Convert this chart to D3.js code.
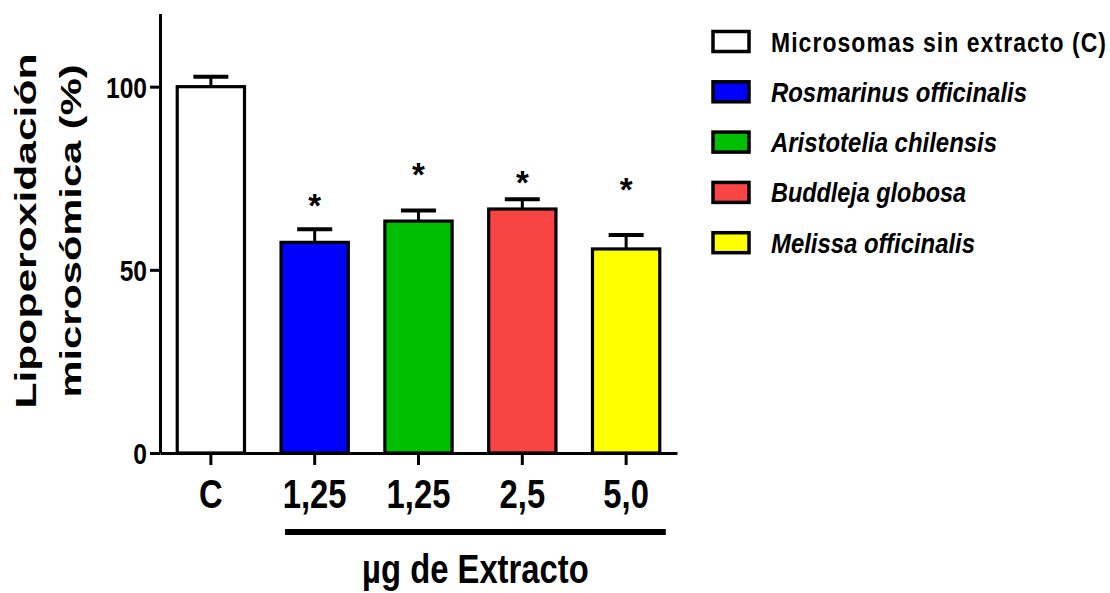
<!DOCTYPE html>
<html>
<head>
<meta charset="utf-8">
<script src="https://cdn.jsdelivr.net/npm/d3@7"></script>
<style>
  html, body { margin: 0; padding: 0; background: #fff; }
  svg { display: block; }
  .narrow { font-family: "Liberation Sans Narrow", "Arial Narrow", "Liberation Sans", Arial, sans-serif; font-weight: bold; }
  .wide { font-family: "Liberation Sans", Arial, sans-serif; font-weight: bold; }
</style>
</head>
<body>
<svg id="chart" width="1110" height="593"></svg>
<script>
// Lipid peroxidation of microsomes (% of control) by extract
const categories = ["C", "1,25", "1,25", "2,5", "5,0"];
const means = [100, 57.5, 63.3, 66.6, 55.7];
const sems = [2.7, 3.6, 2.9, 2.7, 3.8];
const significant = [false, true, true, true, true];
const starLevels = [null, 69.7, 78.1, 76.0, 74.0];
const fills = ["#ffffff", "#0000ff", "#00bf00", "#f94444", "#ffff00"];
const seriesNames = [
  "Microsomas sin extracto (C)",
  "Rosmarinus officinalis",
  "Aristotelia chilensis",
  "Buddleja globosa",
  "Melissa officinalis"
];
const yTicks = [0, 50, 100];
const yTitle = ["Lipoperoxidación", "microsómica (%)"];
const xTitle = "\u00b5g de Extracto";

const svg = d3.select("#chart");
const NARROW = 0.82; // horizontal squeeze for condensed lettering

const x = d3.scaleBand()
  .domain(d3.range(categories.length))
  .range([160, 677])
  .paddingInner(0.352)
  .paddingOuter(0.166);

const y = d3.scaleLinear().domain([0, 120]).range([453, 13.4]);

// bars
svg.append("g").selectAll("rect")
  .data(means)
  .join("rect")
  .attr("x", (d, i) => x(i))
  .attr("y", d => y(d))
  .attr("width", x.bandwidth())
  .attr("height", d => y(0) - y(d))
  .attr("fill", (d, i) => fills[i])
  .attr("stroke", "#000")
  .attr("stroke-width", 3.2);

// error bars (upper only)
const eb = svg.append("g").attr("stroke", "#000");
means.forEach((m, i) => {
  const cx = x(i) + x.bandwidth() / 2;
  eb.append("line")
    .attr("x1", cx).attr("x2", cx)
    .attr("y1", y(m)).attr("y2", y(m + sems[i]))
    .attr("stroke-width", 3);
  eb.append("line")
    .attr("x1", cx - 17.5).attr("x2", cx + 17.5)
    .attr("y1", y(m + sems[i])).attr("y2", y(m + sems[i]))
    .attr("stroke-width", 4);
});

// significance marks
svg.append("g").selectAll("text")
  .data(means.map((m, i) => i).filter(i => significant[i]))
  .join("text")
  .attr("x", i => x(i) + x.bandwidth() / 2)
  .attr("y", i => y(starLevels[i]) + 19)
  .attr("text-anchor", "middle")
  .attr("font-family", "Liberation Sans, Arial, sans-serif")
  .attr("font-weight", "bold")
  .attr("font-size", 33)
  .text("*");

// axes
const yAxis = svg.append("g")
  .attr("transform", "translate(160,0)")
  .call(d3.axisLeft(y).tickValues(yTicks).tickSize(10).tickSizeOuter(0).tickPadding(3));
yAxis.select(".domain").attr("stroke-width", 3);
yAxis.selectAll(".tick line").attr("stroke-width", 3);
yAxis.selectAll(".tick text")
  .attr("class", "narrow")
  .attr("font-size", 30)
  .attr("fill", "#000")
  .attr("x", -13 / NARROW)
  .attr("dy", "0.36em")
  .attr("transform", `scale(${NARROW},1)`);

const xAxis = svg.append("g")
  .attr("transform", "translate(0,453)")
  .call(d3.axisBottom(x).tickFormat(i => categories[i]).tickSize(12).tickSizeOuter(0).tickPadding(0));
xAxis.select(".domain").attr("stroke-width", 3);
xAxis.selectAll(".tick line").attr("stroke-width", 3);
xAxis.selectAll(".tick text")
  .attr("class", "narrow")
  .attr("font-size", 40)
  .attr("fill", "#000")
  .attr("dy", null)
  .attr("y", 55)
  .attr("transform", `scale(${NARROW},1)`);

// group bracket under the extract doses
const bx0 = x(1) + 4, bx1 = x(4) + x.bandwidth() + 6;
svg.append("line")
  .attr("x1", bx0).attr("x2", bx1)
  .attr("y1", 532).attr("y2", 532)
  .attr("stroke", "#000").attr("stroke-width", 6);

svg.append("g")
  .attr("transform", `translate(${(bx0 + bx1) / 2},583) scale(${NARROW},1)`)
  .append("text")
  .attr("class", "narrow")
  .attr("text-anchor", "middle")
  .attr("font-size", 40)
  .text(xTitle);

// y title (two lines, rotated)
const titleLens = [355, 333];
yTitle.forEach((t, k) => {
  svg.append("text")
    .attr("class", "wide")
    .attr("transform", `translate(${36 + k * 45},231) rotate(-90)`)
    .attr("text-anchor", "middle")
    .attr("font-size", 29)
    .attr("textLength", titleLens[k])
    .attr("lengthAdjust", "spacingAndGlyphs")
    .text(t);
});

// legend
const legend = svg.append("g");
const legendLens = [335, 256, 226, 195, 204];
seriesNames.forEach((name, i) => {
  const cy = 41.5 + i * 50.3;
  legend.append("rect")
    .attr("x", 713).attr("y", cy - 10)
    .attr("width", 36).attr("height", 20)
    .attr("fill", fills[i])
    .attr("stroke", "#000").attr("stroke-width", 3.5);
  if (i === 0) {
    // plain label: condensed glyphs, open letter spacing
    legend.append("g")
      .attr("transform", `translate(771,${cy + 10}) scale(${NARROW},1)`)
      .append("text")
      .attr("class", "narrow")
      .attr("font-size", 28)
      .attr("textLength", legendLens[i] / NARROW)
      .attr("lengthAdjust", "spacing")
      .text(name);
  } else {
    legend.append("text")
      .attr("class", "narrow")
      .attr("x", 771).attr("y", cy + 10)
      .attr("font-size", 28)
      .attr("font-style", "italic")
      .attr("textLength", legendLens[i])
      .attr("lengthAdjust", "spacingAndGlyphs")
      .text(name);
  }
});
</script>
</body>
</html>
